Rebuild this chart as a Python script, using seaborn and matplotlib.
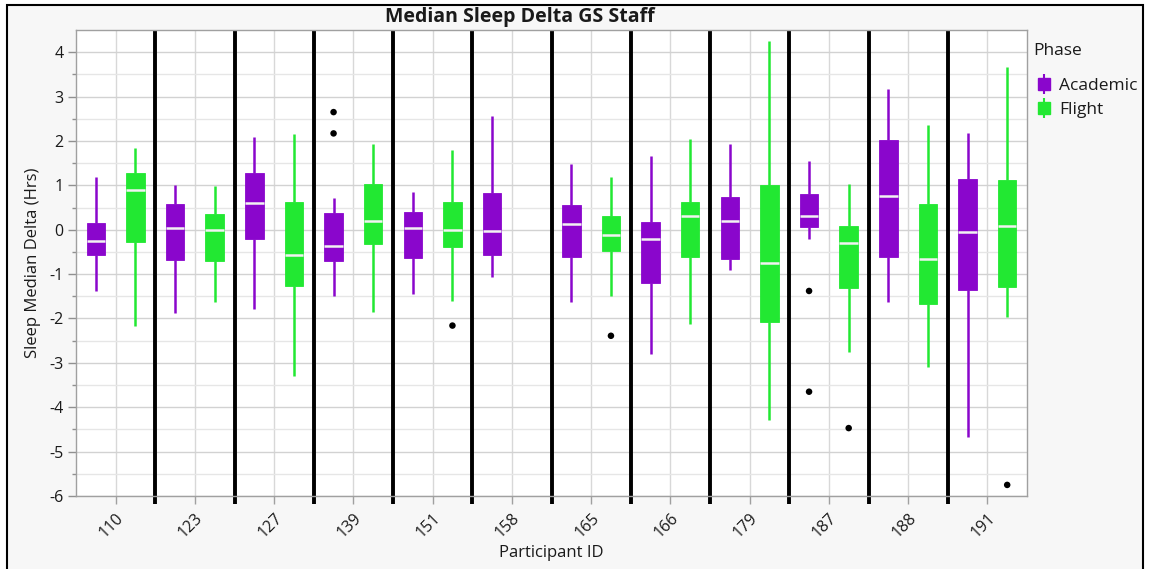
import numpy as np
import pandas as pd
import matplotlib
matplotlib.use("Agg")
import matplotlib.pyplot as plt
from matplotlib.lines import Line2D
from matplotlib.patches import Rectangle
import seaborn as sns

# Datos (resumen de cinco numeros por grupo)
participantes = ["110", "123", "127", "139", "151", "158", "165", "166", "179", "187", "188", "191"]
fases = ["Academic", "Flight"]

acad_min = [-1.39, -1.87, -1.79, -1.49, -1.44, -1.07, -1.64, -2.81, -0.90, -0.22, -1.64, -4.67]
acad_q1 = [-0.56, -0.68, -0.20, -0.70, -0.64, -0.56, -0.61, -1.19, -0.66, 0.05, -0.61, -1.36]
acad_med = [-0.25, 0.03, 0.60, -0.36, 0.03, -0.02, 0.12, -0.21, 0.20, 0.30, 0.77, -0.06]
acad_q3 = [0.15, 0.58, 1.28, 0.37, 0.39, 0.82, 0.55, 0.17, 0.73, 0.80, 2.03, 1.15]
acad_max = [1.18, 1.00, 2.08, 0.72, 0.86, 2.57, 1.48, 1.65, 1.93, 1.55, 3.17, 2.18]

# 158 no tiene datos de Flight
vuelo_min = [-2.16, -1.64, -3.30, -1.85, -1.61, None, -1.49, -2.12, -4.29, -2.75, -3.10, -1.96]
vuelo_q1 = [-0.27, -0.70, -1.26, -0.32, -0.40, None, -0.48, -0.61, -2.09, -1.31, -1.67, -1.28]
vuelo_med = [0.90, -0.01, -0.57, 0.20, 0.00, None, -0.13, 0.30, -0.74, -0.31, -0.65, 0.09]
vuelo_q3 = [1.28, 0.35, 0.62, 1.02, 0.62, None, 0.32, 0.62, 1.00, 0.09, 0.59, 1.12]
vuelo_max = [1.85, 0.98, 2.15, 1.93, 1.80, None, 1.18, 2.05, 4.26, 1.04, 2.35, 3.66]

atipicos_id = ["139", "139", "151", "165", "187", "187", "187", "191"]
atipicos_fase = ["Academic", "Academic", "Flight", "Flight", "Academic", "Academic", "Flight", "Flight"]
atipicos_valor = [2.65, 2.17, -2.16, -2.39, -1.38, -3.65, -4.47, -5.75]

colores = {"Academic": "#8a06cc", "Flight": "#22e832"}

# Tabla larga para seaborn
filas = []
for fase, cols in [("Academic", (acad_min, acad_q1, acad_med, acad_q3, acad_max)),
                   ("Flight", (vuelo_min, vuelo_q1, vuelo_med, vuelo_q3, vuelo_max))]:
    for i, pid in enumerate(participantes):
        for serie in cols:
            if serie[i] is not None:
                filas.append({"pid": pid, "fase": fase, "valor": serie[i]})
df = pd.DataFrame(filas)

sns.set_style("white")
plt.rcParams["font.family"] = ["Open Sans", "DejaVu Sans"]
plt.rcParams["text.color"] = "#1a1a1a"

fig = plt.figure(figsize=(11.49, 5.69), dpi=100, facecolor="white")
fig.patches.append(Rectangle((7 / 1149, -0.01), (1143 - 7) / 1149, 1.01 - 5 / 569,
                             transform=fig.transFigure, facecolor="#f7f7f7",
                             edgecolor="black", linewidth=1.5, zorder=-10))
ax = fig.add_axes([76 / 1149, 1 - 496 / 569, (1027 - 76) / 1149, (496 - 30) / 569])
ax.set_facecolor("white")

ancho = 1.0
sns.boxplot(data=df, x="pid", y="valor", hue="fase", order=participantes, hue_order=fases,
            palette=colores, saturation=1, width=ancho, gap=0.53, whis=(0, 100),
            showcaps=False, fliersize=0, linewidth=1.6, legend=False, ax=ax,
            medianprops={"color": "#f2f2f2", "linewidth": 1.8, "solid_capstyle": "butt"},
            boxprops={"linewidth": 0.6}, zorder=3)

# Bigotes y bordes del color de cada caja
for cont in ax.containers:
    try:
        col = cont.boxes[0].get_facecolor()
    except Exception:
        continue
    for b in cont.boxes:
        b.set_edgecolor(col)
    for w in cont.whiskers:
        w.set_color(col)
        w.set_linewidth(1.8)

# Atipicos
desplaza = {"Academic": -ancho / 4, "Flight": ancho / 4}
xs = [participantes.index(p) + desplaza[f] for p, f in zip(atipicos_id, atipicos_fase)]
sns.scatterplot(x=xs, y=atipicos_valor, color="black", s=22, edgecolor="none", ax=ax, zorder=4)

# Separadores entre participantes
for k in range(len(participantes) - 1):
    ax.axvline(k + 0.5, color="black", linewidth=2.8, zorder=2)

ax.set_xlim(-0.5, len(participantes) - 0.5)
ax.set_ylim(-6, 4.5)
ax.set_yticks(np.arange(-6, 5, 1))
ax.set_yticks(np.arange(-5.5, 4.5, 1), minor=True)
ax.set_xticks(np.arange(0.5, len(participantes) - 1, 1), minor=True)

ax.grid(True, axis="y", which="major", color="#d2d2d2", linewidth=1, zorder=0)
ax.grid(True, axis="y", which="minor", color="#e6e6e6", linewidth=1, zorder=0)
ax.grid(True, axis="x", which="major", color="#d8d8d8", linewidth=1, zorder=0)
ax.set_axisbelow(True)

for s in ax.spines.values():
    s.set_color("#a0a0a0")
    s.set_linewidth(1)

ax.tick_params(axis="y", which="major", direction="out", length=6, width=1, color="#909090",
               labelsize=11.5, pad=3, left=True, labelcolor="#1a1a1a")
ax.tick_params(axis="y", which="minor", direction="out", length=3, width=1, color="#909090", left=True)
ax.tick_params(axis="x", which="major", direction="out", length=6, width=1, color="#a0a0a0",
               labelsize=11.5, pad=4, bottom=True, labelcolor="#1a1a1a")
ax.tick_params(axis="x", which="minor", direction="out", length=6, width=2.8, color="black", bottom=True)
ax.set_yticklabels([str(v) for v in range(-6, 5)])
for lab in ax.get_xticklabels():
    lab.set_rotation(45)
    lab.set_ha("right")
    lab.set_rotation_mode("anchor")

ax.set_xlabel("Participant ID", fontsize=12, labelpad=3, color="#1a1a1a")
ax.set_ylabel("Sleep Median Delta (Hrs)", fontsize=12, labelpad=6, color="#1a1a1a")
fig.text(520 / 1149, 1 - 17 / 569, "Median Sleep Delta GS Staff", ha="center", va="center",
         fontsize=14, fontweight="bold")

# Leyenda
fig.text(1033 / 1149, 1 - 51 / 569, "Phase", ha="left", va="center", fontsize=12.5)
manijas = [(Line2D([], [], color=colores[f], marker="|", markersize=15, mew=1.5, ls="none"),
            Line2D([], [], color=colores[f], marker="s", markersize=8, ls="none")) for f in fases]
leg = fig.legend(manijas, fases, loc="upper left",
                 bbox_to_anchor=(1035 / 1149, 1 - 78 / 569), frameon=False, fontsize=12.5,
                 handlelength=1.0, handletextpad=0.4, labelspacing=0.42,
                 borderaxespad=0, borderpad=0)

fig.savefig("out.png", dpi=100, facecolor=fig.get_facecolor())
